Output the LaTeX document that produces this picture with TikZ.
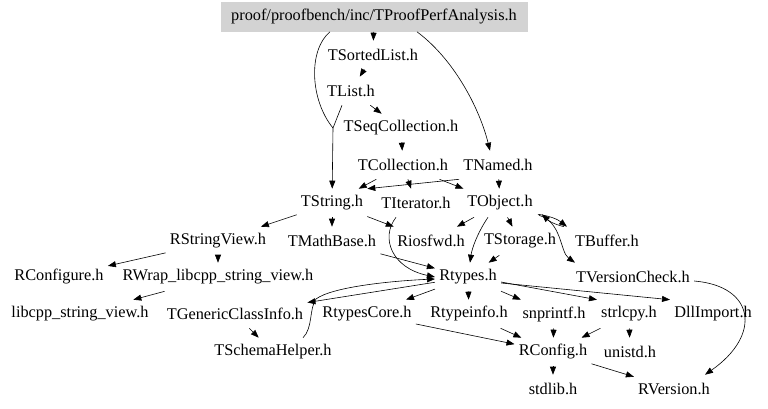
\documentclass[tikz,border=0pt]{standalone}
\usepackage{fontspec}
\setmainfont{Liberation Serif}
\usetikzlibrary{arrows.meta}
\definecolor{rootgray}{HTML}{D3D3D3}

\begin{document}
\begin{tikzpicture}[x=1pt, y=-1pt, ->, >={Triangle[length=8pt, width=6pt]}, line width=0.6pt]
      \tikzstyle{header}=[inner xsep=4pt, inner ysep=0pt, minimum height=28pt, font=\fontsize{16.3}{18}\selectfont]
      \tikzstyle{root header}=[header, fill=rootgray, draw=rootgray, minimum width=306pt, minimum height=29pt]

      \useasboundingbox (0,0) rectangle (768,409);

      \node[root header] (root) at (374, 17) {proof/proofbench/inc/TProofPerfAnalysis.h};
      \node[header] (sorted) at (373, 55) {TSortedList.h};
      \node[header] (tlist) at (351, 91) {TList.h};
      \node[header] (seqcoll) at (401, 128) {TSeqCollection.h};
      \node[header] (tcoll) at (403, 165) {TCollection.h};
      \node[header] (tnamed) at (498, 165) {TNamed.h};
      \node[header] (tstring) at (332, 203) {TString.h};
      \node[header] (titer) at (416, 203) {TIterator.h};
      \node[header] (tobject) at (500, 203) {TObject.h};
      \node[header] (rstringview) at (218, 241) {RStringView.h};
      \node[header] (tmathbase) at (332, 241) {TMathBase.h};
      \node[header] (riosfwd) at (431, 241) {Riosfwd.h};
      \node[header] (tstorage) at (520, 241) {TStorage.h};
      \node[header] (tbuffer) at (607, 241) {TBuffer.h};
      \node[header] (rconfigure) at (59, 277) {RConfigure.h};
      \node[header] (rwrap) at (218, 277) {RWrap\_libcpp\_string\_view.h};
      \node[header] (rtypes) at (468, 277) {Rtypes.h};
      \node[header] (tversion) at (633, 277) {TVersionCheck.h};
      \node[header] (libcpp) at (80, 314) {libcpp\_string\_view.h};
      \node[header] (tgeneric) at (235, 314) {TGenericClassInfo.h};
      \node[header] (rtypescore) at (367, 314) {RtypesCore.h};
      \node[header] (rtypeinfo) at (469, 314) {Rtypeinfo.h};
      \node[header] (snprintf) at (554, 314) {snprintf.h};
      \node[header] (strlcpy) at (629, 314) {strlcpy.h};
      \node[header] (dllimport) at (713, 314) {DllImport.h};
      \node[header] (tschema) at (273, 352) {TSchemaHelper.h};
      \node[header] (rconfig) at (553, 352) {RConfig.h};
      \node[header] (unistd) at (630, 352) {unistd.h};
      \node[header] (stdlib) at (553, 389) {stdlib.h};
      \node[header] (rversion) at (674, 389) {RVersion.h};

      \coordinate (merge) at (333, 128);

      % top part
      \path (root) edge (sorted);
      \draw[-] ([xshift=-44pt]root.south) .. controls (308, 50) and (310, 100) .. (merge);
      \draw[-] ([xshift=-9pt]tlist.south) -- (merge);
      \draw (merge) -- (tstring);
      \draw ([xshift=43pt]root.south) .. controls (455, 60) and (480, 110) .. ([xshift=-8pt]tnamed.north);
      \path (sorted) edge (tlist);
      \path (tlist) edge (seqcoll);
      \path (seqcoll) edge (tcoll);
      \path (tcoll) edge (tstring);
      \path (tcoll) edge (titer);
      \path (tcoll) edge (tobject);
      \path (tnamed) edge (tobject);
      \path (tnamed.south west) edge (tstring.north east);

      % TString and TObject
      \path (tstring) edge (rstringview);
      \path (tstring) edge (tmathbase);
      \path (tstring) edge (riosfwd);
      \draw ([xshift=-20pt]titer.south) .. controls (380, 238) and (392, 268) .. (rtypes.west);
      \path (tmathbase) edge (rtypes);
      \path (tobject) edge (riosfwd);
      \draw ([xshift=-12pt]tobject.south) .. controls (478, 232) and (472, 248) .. ([xshift=2pt]rtypes.north);
      \path (tobject) edge (tstorage);
      \path (tstorage) edge (rtypes);
      \draw ([xshift=1pt, yshift=3pt]tobject.south east) to[bend left=15] ([xshift=-4pt]tbuffer.north west);
      \draw ([xshift=-7pt]tbuffer.north west) to[bend left=15] ([xshift=5pt, yshift=3pt]tobject.south east);
      \draw ([xshift=2pt, yshift=2pt]tobject.south east) .. controls (562, 222) and (560, 252) .. ([xshift=-58pt]tversion.north);

      % RStringView
      \path (rstringview) edge (rconfigure);
      \path (rstringview) edge (rwrap);
      \path (rwrap) edge (libcpp);

      % Rtypes
      \path (rtypes) edge (tgeneric);
      \path (tgeneric) edge (tschema);
      \draw ([xshift=30pt]tschema.north) .. controls (313, 328) and (309, 309) .. (316, 299) .. controls (332, 287) and (390, 281) .. ([yshift=-2pt]rtypes.west);
      \path (rtypes) edge (rtypescore);
      \path (rtypes) edge (rtypeinfo);
      \path (rtypes) edge (snprintf);
      \path ([yshift=-5pt]rtypes.east) edge (strlcpy.north west);
      \path ([yshift=-6pt]rtypes.east) edge (dllimport.north west);
      \draw ([yshift=-4pt]tversion.east) .. controls (755, 286) and (762, 335) .. ([xshift=31pt]rversion.north);

      % RConfig
      \path (rtypescore) edge (rconfig);
      \path (rtypeinfo) edge (rconfig);
      \path (snprintf) edge (rconfig);
      \path (strlcpy) edge (rconfig);
      \path (strlcpy) edge (unistd);
      \path (rconfig) edge (stdlib);
      \path (rconfig) edge (rversion);
  \end{tikzpicture}
\end{document}
